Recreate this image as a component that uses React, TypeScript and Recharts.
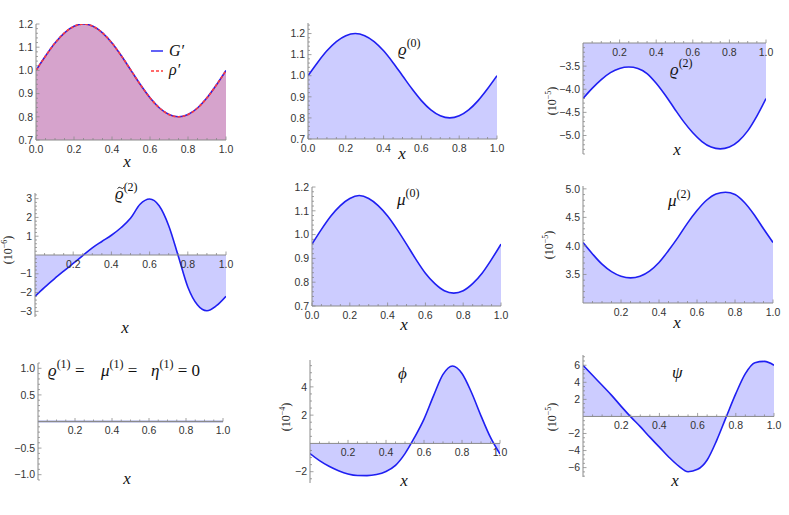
import React from 'react';
import { AreaChart, Area, XAxis, YAxis, ReferenceLine } from 'recharts';

// sample positions along x (shared by every panel)
const xs = [0, 0.05, 0.1, 0.15, 0.2, 0.25, 0.3, 0.35, 0.4, 0.45, 0.5, 0.55, 0.6, 0.65, 0.7, 0.75, 0.8, 0.85, 0.9, 0.95, 1];

// values
const gPrime = [1.0, 1.062, 1.118, 1.162, 1.19, 1.2, 1.19, 1.162, 1.118, 1.062, 1.0, 0.938, 0.882, 0.838, 0.81, 0.8, 0.81, 0.838, 0.882, 0.938, 1.0];
const rhoPrime = [1.0, 1.062, 1.118, 1.162, 1.19, 1.2, 1.19, 1.162, 1.118, 1.062, 1.0, 0.938, 0.882, 0.838, 0.81, 0.8, 0.81, 0.838, 0.882, 0.938, 1.0];
const rho0 = [1.0, 1.062, 1.118, 1.162, 1.19, 1.2, 1.19, 1.162, 1.118, 1.062, 1.0, 0.938, 0.882, 0.838, 0.81, 0.8, 0.81, 0.838, 0.882, 0.938, 1.0];
const rho2 = [-4.2, -3.98, -3.79, -3.64, -3.55, -3.52, -3.55, -3.66, -3.87, -4.13, -4.42, -4.7, -4.94, -5.13, -5.25, -5.29, -5.25, -5.12, -4.9, -4.58, -4.2];
const rho2t = [-2.2, -1.72, -1.28, -0.86, -0.45, -0.03, 0.38, 0.72, 1.05, 1.45, 1.95, 2.7, 2.98, 2.62, 1.56, -0.05, -1.7, -2.65, -2.97, -2.7, -2.2];
const mu0 = [0.96, 1.022, 1.078, 1.122, 1.152, 1.164, 1.152, 1.122, 1.078, 1.022, 0.96, 0.896, 0.838, 0.794, 0.764, 0.754, 0.764, 0.794, 0.838, 0.896, 0.96];
const mu2 = [4.06, 3.86, 3.68, 3.55, 3.47, 3.44, 3.47, 3.56, 3.71, 3.92, 4.15, 4.4, 4.62, 4.8, 4.91, 4.94, 4.9, 4.76, 4.55, 4.3, 4.06];
const first = [0, 0, 0, 0, 0, 0, 0, 0, 0, 0, 0, 0, 0, 0, 0, 0, 0, 0, 0, 0, 0];
const phi = [-0.72, -1.22, -1.62, -1.93, -2.16, -2.27, -2.28, -2.2, -1.98, -1.55, -0.72, 0.42, 1.72, 3.36, 4.88, 5.48, 4.95, 3.6, 1.95, 0.42, -0.75];
const psi = [6.0, 4.82, 3.65, 2.47, 1.18, -0.05, -1.2, -2.43, -3.6, -4.78, -5.8, -6.48, -6.2, -5.1, -2.8, -0.05, 2.67, 5.02, 6.3, 6.45, 6.0];

// tick labels
const xTicksFull = [0, 0.2, 0.4, 0.6, 0.8, 1];
const xTicksNoZero = [0.2, 0.4, 0.6, 0.8, 1];
const yTicksRho0 = [0.7, 0.8, 0.9, 1.0, 1.1, 1.2];
const yTicksRho2 = [-5.0, -4.5, -4.0, -3.5];
const yTicksRho2t = [-3, -2, -1, 1, 2, 3];
const yTicksMu2 = [3.5, 4.0, 4.5, 5.0];
const yTicksFirst = [-1.0, -0.5, 0.5, 1.0];
const yTicksPhi = [-2, 2, 4];
const yTicksPsi = [-6, -4, -2, 2, 4, 6];

const BLUE = '#1f1ff2';
const RED = '#ff3b3b';
const AXIS = '#8a8a8a';
const LABEL = '#333';
const SANS = '"Liberation Sans", Arial, sans-serif';
const SERIF = '"Liberation Serif", "DejaVu Serif", serif';

type Series = { values: number[]; stroke: string; fill: string; dash?: string };
type PanelCfg = {
  px0: number; px1: number; pyTop: number; pyBot: number;
  yDomain: [number, number];
  axisY: number;
  xMajor: number[];
  yMajor: number[];
  yMinor: number;
  yDec: number;
  series: Series[];
};

const panels: PanelCfg[] = [
  { px0: 36, px1: 226, pyTop: 24, pyBot: 140, yDomain: [0.7, 1.2], axisY: 0.7, xMajor: xTicksFull, yMajor: yTicksRho0, yMinor: 0.02, yDec: 1,
    series: [{ values: gPrime, stroke: BLUE, fill: '#0000ff' }, { values: rhoPrime, stroke: RED, fill: '#ff0000', dash: '3 2' }] },
  { px0: 308, px1: 497, pyTop: 23, pyBot: 139, yDomain: [0.7, 1.25], axisY: 0.7, xMajor: xTicksFull, yMajor: yTicksRho0, yMinor: 0.02, yDec: 1,
    series: [{ values: rho0, stroke: BLUE, fill: '#0000ff' }] },
  { px0: 583, px1: 766, pyTop: 43, pyBot: 154, yDomain: [-5.4, -3.0], axisY: -3.0, xMajor: xTicksNoZero, yMajor: yTicksRho2, yMinor: 0.1, yDec: 1,
    series: [{ values: rho2, stroke: BLUE, fill: '#0000ff' }] },
  { px0: 35, px1: 226, pyTop: 193, pyBot: 317, yDomain: [-3.3, 3.3], axisY: 0, xMajor: xTicksNoZero, yMajor: yTicksRho2t, yMinor: 0.2, yDec: 0,
    series: [{ values: rho2t, stroke: BLUE, fill: '#0000ff' }] },
  { px0: 312, px1: 501, pyTop: 187, pyBot: 306, yDomain: [0.7, 1.2], axisY: 0.7, xMajor: xTicksFull, yMajor: yTicksRho0, yMinor: 0.02, yDec: 1,
    series: [{ values: mu0, stroke: BLUE, fill: '#0000ff' }] },
  { px0: 583, px1: 773, pyTop: 186, pyBot: 303, yDomain: [3.0, 5.05], axisY: 3.0, xMajor: xTicksNoZero, yMajor: yTicksMu2, yMinor: 0.1, yDec: 1,
    series: [{ values: mu2, stroke: BLUE, fill: '#0000ff' }] },
  { px0: 38, px1: 223, pyTop: 363, pyBot: 480, yDomain: [-1.1, 1.1], axisY: 0, xMajor: xTicksNoZero, yMajor: yTicksFirst, yMinor: 0.1, yDec: 1,
    series: [{ values: first, stroke: '#3a46b0', fill: '#0000ff' }] },
  { px0: 310, px1: 500, pyTop: 360, pyBot: 483, yDomain: [-2.8, 5.9], axisY: 0, xMajor: xTicksNoZero, yMajor: yTicksPhi, yMinor: 0.5, yDec: 0,
    series: [{ values: phi, stroke: BLUE, fill: '#0000ff' }] },
  { px0: 583, px1: 774, pyTop: 355, pyBot: 477, yDomain: [-7.1, 7.2], axisY: 0, xMajor: xTicksNoZero, yMajor: yTicksPsi, yMinor: 0.5, yDec: 0,
    series: [{ values: psi, stroke: BLUE, fill: '#0000ff' }] },
];

function minorTicks(lo: number, hi: number, step: number) {
  const out: number[] = [];
  for (let k = Math.ceil(lo / step - 1e-9); k * step <= hi + 1e-9; k++) out.push(Math.round(k * step * 1000) / 1000);
  return out;
}
const isIn = (v: number, arr: number[]) => arr.some(m => Math.abs(m - v) < 1e-6);
const fmt = (v: number, dec: number) => v.toFixed(dec).replace('-', '\u2212');

function XTick(props: any) {
  const { x, y, payload, off, major } = props;
  const v = payload.value;
  const ay = y - off;
  const isMajor = isIn(v, major);
  return (
    <g>
      <line x1={x} x2={x} y1={ay} y2={ay - (isMajor ? 3.5 : 2)} stroke={AXIS} strokeWidth={0.8} />
      {isMajor && (
        <text x={x} y={ay + 12.5} textAnchor="middle" fontSize={10.5} fontFamily={SANS} fill={LABEL}>{v.toFixed(1)}</text>
      )}
    </g>
  );
}

function YTick(props: any) {
  const { x, y, payload, major, dec } = props;
  const v = payload.value;
  const isMajor = isIn(v, major);
  return (
    <g>
      <line x1={x} x2={x + (isMajor ? 3.5 : 2)} y1={y} y2={y} stroke={AXIS} strokeWidth={0.8} />
      {isMajor && (
        <text x={x - 3} y={y + 3.7} textAnchor="end" fontSize={10.5} fontFamily={SANS} fill={LABEL}>{fmt(v, dec)}</text>
      )}
    </g>
  );
}

function Panel({ cfg }: { cfg: PanelCfg }) {
  const ML = 40, MT = 10, MR = 20, XH = 30;
  const plotW = cfg.px1 - cfg.px0;
  const plotH = cfg.pyBot - cfg.pyTop;
  const [d0, d1] = cfg.yDomain;
  const off = ((cfg.axisY - d0) / (d1 - d0)) * plotH;
  const data = xs.map((x, i) => {
    const row: any = { x };
    cfg.series.forEach((s, j) => { row['s' + j] = s.values[i]; });
    return row;
  });
  const xTicks = minorTicks(0, 1, 0.05).filter(v => v > 0 || isIn(0, cfg.xMajor));
  const yTicks = minorTicks(d0, d1, cfg.yMinor).filter(v => Math.abs(v - cfg.axisY) > 1e-6 || isIn(v, cfg.yMajor));
  return (
    <div style={{ position: 'absolute', left: cfg.px0 - ML, top: cfg.pyTop - MT }}>
      <AreaChart width={plotW + ML + MR} height={plotH + MT + XH} data={data} margin={{ top: MT, right: MR, bottom: 0, left: 0 }}>
        <XAxis type="number" dataKey="x" domain={[0, 1]} ticks={xTicks} interval={0} height={XH}
          axisLine={false} tickLine={false} tickSize={0} tickMargin={0} allowDataOverflow
          tick={(p: any) => <XTick {...p} off={off} major={cfg.xMajor} />} />
        <YAxis type="number" domain={cfg.yDomain} ticks={yTicks} interval={0} width={ML}
          axisLine={{ stroke: AXIS, strokeWidth: 1 }} tickLine={false} tickSize={0} tickMargin={0} allowDataOverflow
          tick={(p: any) => <YTick {...p} major={cfg.yMajor} dec={cfg.yDec} />} />
        {cfg.series.map((s, j) => (
          <Area key={j} type="monotone" dataKey={'s' + j} stroke={s.stroke} strokeWidth={1.6} strokeDasharray={s.dash}
            fill={s.fill} fillOpacity={0.2} isAnimationActive={false} dot={false} activeDot={false} />
        ))}
        <ReferenceLine y={cfg.axisY} stroke={AXIS} strokeWidth={1} ifOverflow="visible" />
      </AreaChart>
    </div>
  );
}

// italic symbol with an upright superscript, optionally followed by text on the baseline
function Sym({ x, y, base, sup, after }: { x: number; y: number; base: string; sup: string; after?: string }) {
  return (
    <text x={x} y={y} fontFamily={SERIF} fontSize={17} fontStyle="italic" fill="#111">
      {base}
      <tspan fontStyle="normal" fontSize={12} dy={-8}>{sup}</tspan>
      {after && <tspan fontStyle="normal" dy={8}>{after}</tspan>}
    </text>
  );
}

function Unit({ x, y, exp }: { x: number; y: number; exp: string }) {
  return (
    <text transform={`translate(${x},${y}) rotate(-90)`} textAnchor="middle" fontFamily={SERIF} fontSize={12} fill="#222">
      (10<tspan fontSize={8} dy={-5}>{exp}</tspan><tspan dy={5}>)</tspan>
    </text>
  );
}

const xLabelPos = [[127, 167], [402, 159], [677, 155], [125, 333], [404, 330], [677, 328], [127, 484], [404, 486], [675, 486]];

export default function App() {
  return (
    <div style={{ position: 'absolute', left: 0, top: 0, width: 789, height: 515, background: '#fff' }}>
      {panels.map((cfg, i) => <Panel key={i} cfg={cfg} />)}
      <svg width={789} height={515} style={{ position: 'absolute', left: 0, top: 0, pointerEvents: 'none' }}>
        {xLabelPos.map(([x, y], i) => (
          <text key={i} x={x} y={y} textAnchor="middle" fontFamily={SERIF} fontSize={17} fontStyle="italic" fill="#111">x</text>
        ))}
        {/* legend of the first panel */}
        <line x1={151} x2={163} y1={51} y2={51} stroke={BLUE} strokeWidth={1.4} />
        <text x={169} y={56} fontFamily={SERIF} fontSize={16} fontStyle="italic" fill="#111">G′</text>
        <line x1={151} x2={163} y1={71} y2={71} stroke={RED} strokeWidth={1.4} strokeDasharray="3 2" />
        <text x={169} y={75} fontFamily={SERIF} fontSize={16} fontStyle="italic" fill="#111">ρ′</text>

        <Sym x={398} y={55} base="ϱ" sup="(0)" />
        <Sym x={670} y={75} base="ϱ" sup="(2)" />
        <Sym x={115} y={199} base="ϱ" sup="(2)" />
        {/* tilde over the rho */}
        <path d="M117.5,188.5 q1.6,-2.2 3.3,-0.6 t3.3,-0.6" fill="none" stroke="#111" strokeWidth={0.9} />
        <Sym x={397} y={205} base="μ" sup="(0)" />
        <Sym x={668} y={206} base="μ" sup="(2)" />
        <Sym x={48} y={376} base="ϱ" sup="(1)" after=" =" />
        <Sym x={101} y={376} base="μ" sup="(1)" after=" =" />
        <Sym x={151} y={376} base="η" sup="(1)" after=" = 0" />
        <text x={398} y={379} fontFamily={SERIF} fontSize={17} fontStyle="italic" fill="#111">ϕ</text>
        <text x={672} y={378} fontFamily={SERIF} fontSize={17} fontStyle="italic" fill="#111">ψ</text>

        <Unit x={556} y={101} exp="−5" />
        <Unit x={12} y={250} exp="−6" />
        <Unit x={553} y={245} exp="−5" />
        <Unit x={290} y={417} exp="−4" />
        <Unit x={556} y={417} exp="−5" />
      </svg>
    </div>
  );
}
